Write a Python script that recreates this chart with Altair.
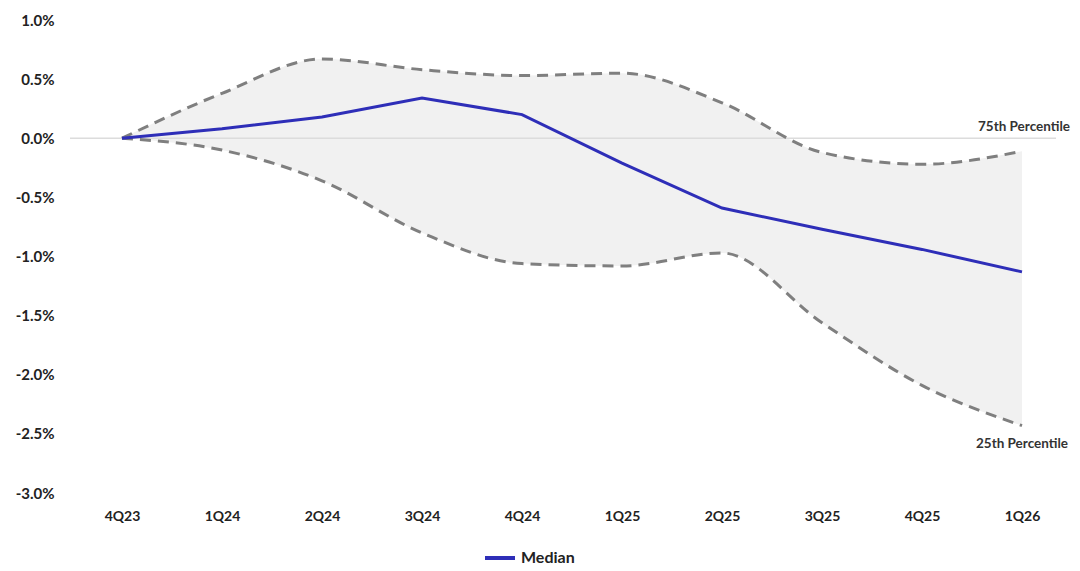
import pandas as pd
import altair as alt

# Quarterly values, in percent
quarters = ["4Q23", "1Q24", "2Q24", "3Q24", "4Q24", "1Q25", "2Q25", "3Q25", "4Q25", "1Q26"]
median = [0.0, 0.08, 0.18, 0.34, 0.20, -0.21, -0.59, -0.77, -0.94, -1.13]
p75 = [0.0, 0.38, 0.67, 0.58, 0.53, 0.55, 0.30, -0.12, -0.22, -0.11]
p25 = [0.0, -0.10, -0.36, -0.80, -1.06, -1.08, -0.97, -1.56, -2.09, -2.43]
y_ticks = [1.0, 0.5, 0.0, -0.5, -1.0, -1.5, -2.0, -2.5, -3.0]

df = pd.DataFrame({"quarter": quarters, "median": median, "p75": p75, "p25": p25})
df["series"] = "Median"

labels = pd.DataFrame({
    "quarter": ["1Q26", "1Q26"],
    "value": [0.0, -2.5],
    "text": ["75th Percentile", "25th Percentile"],
})

FONT = "Lato"
x_scale = alt.Scale(domain=quarters, padding=0.5)
y_scale = alt.Scale(domain=[-3.0, 1.0], nice=False)

base = alt.Chart(df).encode(
    x=alt.X("quarter:O", scale=x_scale, sort=quarters, title=None,
            axis=alt.Axis(labelAngle=0, domain=False, ticks=False, labelPadding=16,
                          labelFont=FONT, labelFontWeight="bold", labelFontSize=14,
                          labelColor="#222222"))
)

band = base.mark_area(color="#f1f1f1", interpolate="monotone").encode(
    y=alt.Y("p75:Q", scale=y_scale, title=None,
            axis=alt.Axis(values=y_ticks, domain=False, ticks=False, grid=False,
                          labelPadding=18, labelFont=FONT, labelFontWeight="bold",
                          labelFontSize=15, labelColor="#222222",
                          labelExpr="replace(format(datum.value, '.1f'), '\u2212', '-') + '%'")),
    y2="p25:Q",
)

zero = alt.Chart(pd.DataFrame({"v": [0.0]})).mark_rule(color="#dcdcdc", strokeWidth=1.5).encode(
    y=alt.Y("v:Q", scale=y_scale), x=alt.value(-2), x2=alt.value(984)
)

upper = base.mark_line(color="#7f7f7f", strokeWidth=3, strokeDash=[11, 7],
                       interpolate="monotone").encode(y=alt.Y("p75:Q", scale=y_scale))
lower = base.mark_line(color="#7f7f7f", strokeWidth=3, strokeDash=[11, 7],
                       interpolate="monotone").encode(y=alt.Y("p25:Q", scale=y_scale))

mid = base.mark_line(strokeWidth=3).encode(
    y=alt.Y("median:Q", scale=y_scale),
    color=alt.Color("series:N", scale=alt.Scale(domain=["Median"], range=["#2e2eb8"]),
                    legend=alt.Legend(title=None, orient="none", legendX=411, legendY=521,
                                      symbolType="stroke", symbolStrokeWidth=4, symbolSize=900,
                                      labelFont=FONT, labelFontWeight="bold", labelFontSize=16,
                                      labelColor="#222222", labelOffset=4)),
)

text75 = alt.Chart(labels.iloc[[0]]).mark_text(
    align="right", dx=48, dy=-11, font=FONT, fontWeight="bold", fontSize=13.5, color="#333333"
).encode(x=alt.X("quarter:O", scale=x_scale, sort=quarters),
         y=alt.Y("value:Q", scale=y_scale), text="text:N")

text25 = alt.Chart(labels.iloc[[1]]).mark_text(
    align="right", dx=46, dy=10, font=FONT, fontWeight="bold", fontSize=13.5, color="#333333"
).encode(x=alt.X("quarter:O", scale=x_scale, sort=quarters),
         y=alt.Y("value:Q", scale=y_scale), text="text:N")

chart = alt.layer(band, zero, upper, lower, mid, text75, text25).properties(
    width=1000, height=473,
    autosize=alt.AutoSizeParams(type="none"),
    padding={"left": 64, "top": 12, "right": 0, "bottom": 78},
).configure_view(stroke=None)

chart.save("out.html", embed_options={"renderer": "svg", "actions": False})
